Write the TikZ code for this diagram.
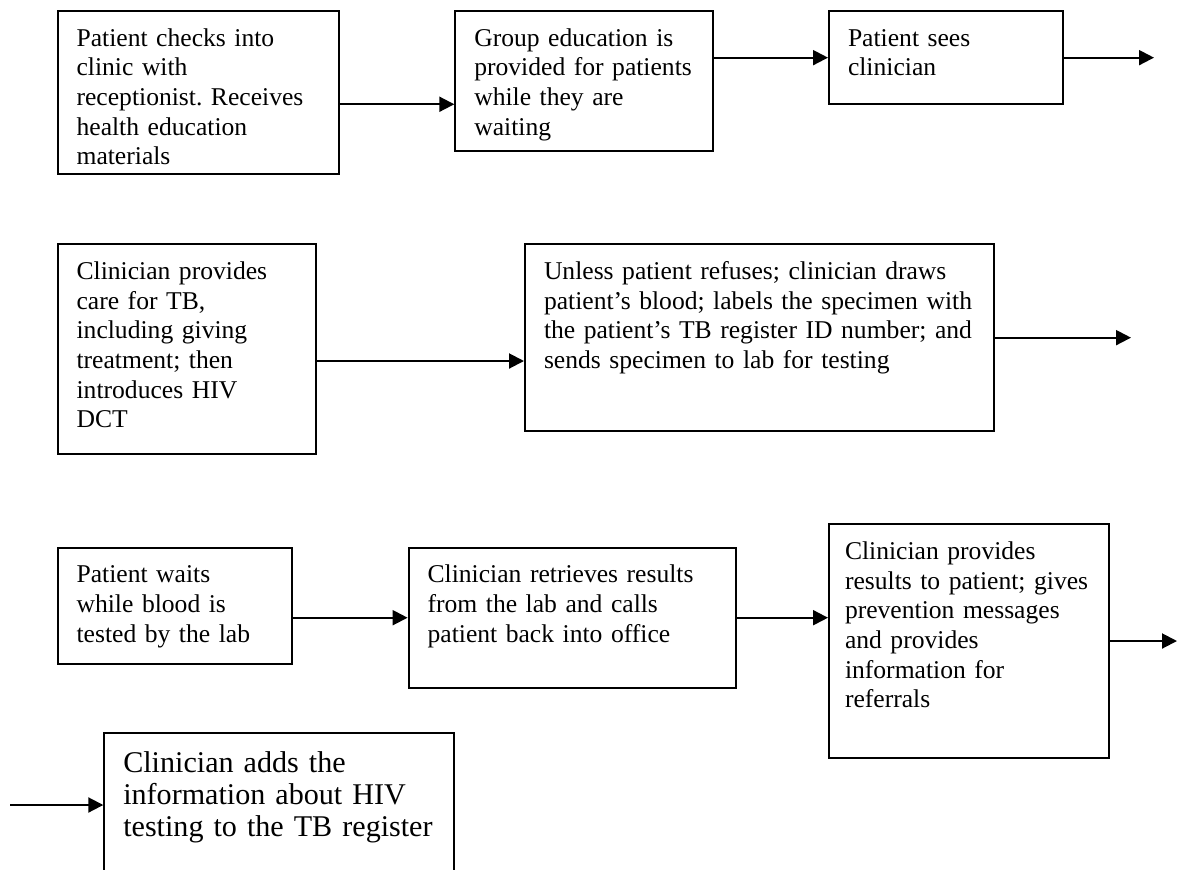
\documentclass[tikz,border=0pt]{standalone}
\usepackage{fontspec}
\setmainfont{Liberation Serif}
\usetikzlibrary{arrows.meta}
\hyphenpenalty=10000
\exhyphenpenalty=10000
\tikzset{
  flow box/.style={
    draw, line width=1pt, anchor=north west, align=left,
    inner xsep=9.5pt, inner ysep=0pt, text height=17.5pt,
    font=\fontsize{12.8}{14.85}\selectfont\frenchspacing
  },
  flow arrow/.style={-{Triangle[length=7.5pt,width=7.5pt]}, line width=1pt}
}

\begin{document}
\begin{tikzpicture}[x=0.5pt,y=-0.5pt]
    \clip (0,0) rectangle (1179,869);
    % first row
    \node[flow box, text width=121.5pt, text depth=64.15pt] (checkin) at (56.6,10)
      {Patient checks into\\ clinic with\\ receptionist. Receives\\ health education\\ materials};
    \node[flow box, text width=109.85pt, text depth=52.5pt] (groupedu) at (454.3,10)
      {Group education is\\ provided for patients\\ while they are\\ waiting};
    \node[flow box, text width=98pt, text depth=29.15pt] (seeclin) at (828,10)
      {Patient sees\\ clinician};
    % second row
    \node[flow box, text width=110pt, text depth=87.5pt] (tbcare) at (56.6,243.3)
      {Clinician provides\\ care for TB,\\ including giving\\ treatment; then\\ introduces HIV\\ DCT};
    \node[flow box, text width=215.25pt, text depth=75.85pt] (blood) at (524,243.3)
      {Unless patient refuses; clinician draws\\ patient's blood; labels the specimen with\\ the patient's TB register ID number; and\\ sends specimen to lab for testing};
    % third row
    \node[flow box, text width=98.2pt, text depth=40.8pt] (wait) at (56.6,546.7)
      {Patient waits\\ while blood is\\ tested by the lab};
    \node[flow box, text width=144.7pt, text depth=52.5pt] (retrieve) at (407.6,546.7)
      {Clinician retrieves results\\ from the lab and calls\\ patient back into office};
    \node[flow box, inner xsep=8pt, text width=124pt, text depth=99.2pt] (results) at (828,523.3)
      {Clinician provides\\ results to patient; gives\\ prevention messages\\ and provides\\ information for\\ referrals};
    % last row
    \node[flow box, text width=156pt, text height=20pt, text depth=80pt,
          font=\fontsize{15.05}{15.85}\selectfont\frenchspacing] (register) at (103.3,731.7)
      {Clinician adds the\\ information about HIV\\ testing to the TB register};

    \coordinate (link1) at ([yshift=-5.8pt]checkin.east);
    \coordinate (exit1) at (1154,56.7);
    \coordinate (link4) at ([yshift=-5.85pt]tbcare.east);
    \coordinate (exit2) at (1131,337);
    \coordinate (exit3) at (1177,640);
    \coordinate (entry) at (10,805);

    \draw[flow arrow] (link1) -- (link1 -| groupedu.west);
    \draw[flow arrow] (groupedu.east |- seeclin.west) -- (seeclin.west);
    \draw[flow arrow] (seeclin.east) -- (seeclin.east -| exit1);
    \draw[flow arrow] (link4) -- (link4 -| blood.west);
    \draw[flow arrow] (blood.east) -- (blood.east -| exit2);
    \draw[flow arrow] (wait.east |- retrieve.west) -- (retrieve.west);
    \draw[flow arrow] (retrieve.east) -- (retrieve.east -| results.west);
    \draw[flow arrow] (results.east) -- (results.east -| exit3);
    \draw[flow arrow] (entry) -- (entry -| register.west);
  \end{tikzpicture}
\end{document}
